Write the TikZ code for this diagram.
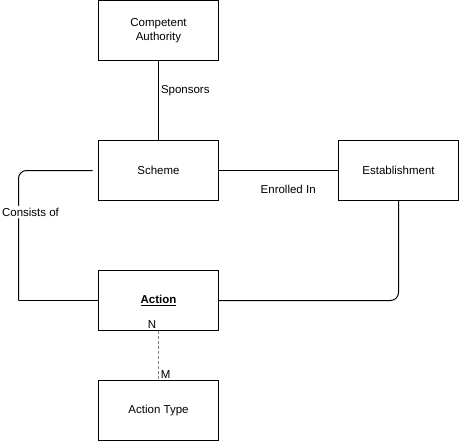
\documentclass[tikz,border=0pt]{standalone}
\usepackage{fontspec}
\setmainfont{Liberation Sans}
\usepackage{tikz}
\usetikzlibrary{positioning}
\tikzset{
  entity/.style={draw,line width=1pt,minimum width=120pt,minimum height=60pt,%
    font=\fontsize{11.5}{13.5}\selectfont,inner sep=2pt,align=center,outer sep=0pt},
  link/.style={line width=1pt},
  weak/.style={densely dashed,draw=gray,line width=0.6pt},
  lbl/.style={font=\fontsize{11.5}{13.5}\selectfont,inner sep=2pt},
}
\begin{document}
\begin{tikzpicture}[x=1pt,y=-1pt,node distance=80pt and 120pt]
\useasboundingbox (0,0) rectangle (460,441);
\node[entity,anchor=north west] (ca) at (98.5,0.5) {Competent\\Authority};
\node[entity,below=of ca] (scheme) {Scheme};
\node[entity,right=of scheme] (est) {Establishment};
\node[entity,below=70pt of scheme] (action) {\underline{\textbf{Action}}};
\node[entity,below=50pt of action] (atype) {Action Type};
\coordinate[left=6pt of scheme.west] (sL);
\coordinate[left=80pt of action.west] (cL);
\draw[link] (ca) -- node[lbl,right,pos=0.38]{Sponsors} (scheme);
\draw[link] (scheme) -- (est);
\node[lbl,below=12pt of scheme.east,anchor=north west,xshift=40pt] (enr) {Enrolled In};
\draw[link,rounded corners=8pt] (sL) -| (cL)
  node[lbl,pos=0.66,fill=white,xshift=12pt] {Consists of};
\draw[link] (cL) -- (action.west);
\draw[link,rounded corners=8pt] (est.south) |- (action.east);
\draw[weak] (action) -- node[lbl,pos=0,anchor=south east]{N}
  node[lbl,pos=1,anchor=south west]{M} (atype);
\end{tikzpicture}
\end{document}
